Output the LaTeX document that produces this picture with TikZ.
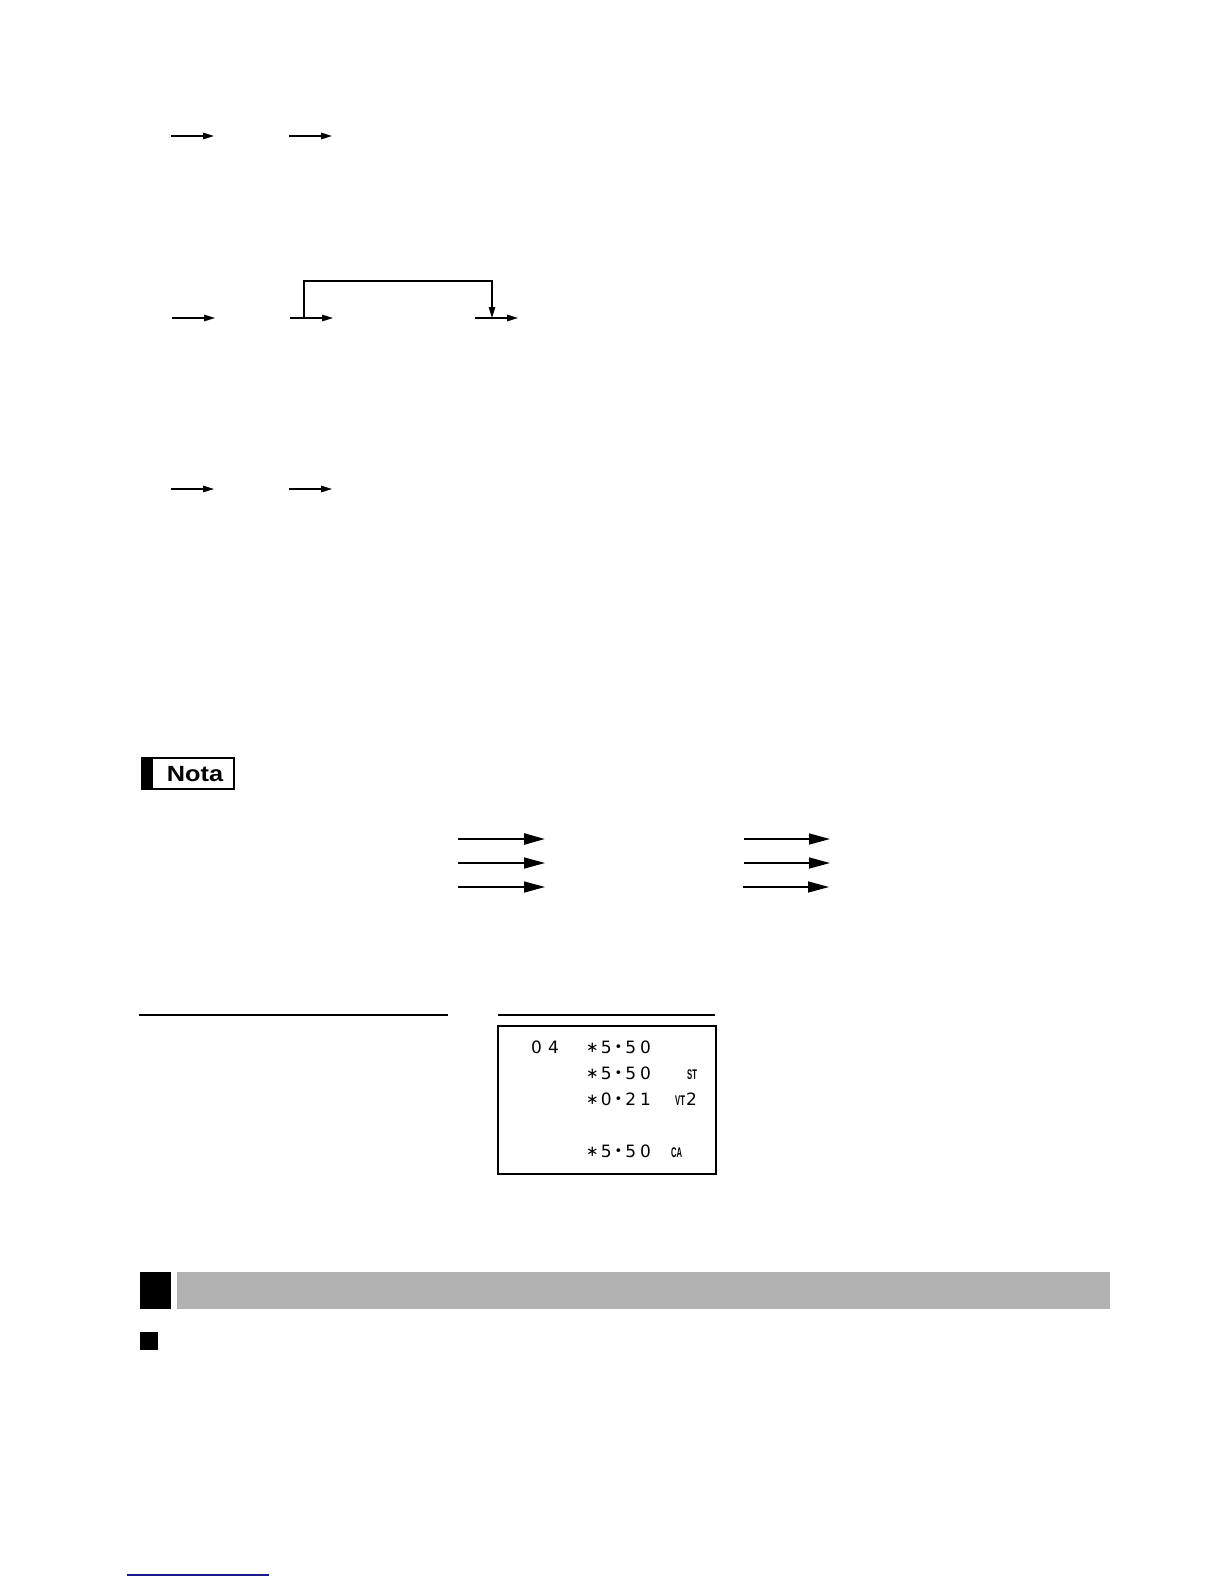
\documentclass[tikz,border=0pt]{standalone}
\usepackage{fontspec}
\setmainfont{Liberation Sans}
\newfontfamily\rcptfont{DejaVu Sans}
\usetikzlibrary{arrows.meta}
\definecolor{barGray}{HTML}{B2B2B2}
\definecolor{navyLine}{HTML}{1A1A8C}
\newcommand{\rstar}{\raisebox{1pt}{\fontsize{15}{15}\selectfont ∗}}
\newcommand{\rdot}{\raisebox{1.8pt}{\fontsize{13}{13}\selectfont •}}
\tikzset{
  keyarrow/.style={line width=1.4pt,-{Triangle[length=11pt,width=6.5pt]}},
  notaarrow/.style={line width=1.5pt,-{Triangle[length=21pt,width=11pt]}},
  rtext/.style={anchor=west,inner sep=0pt,font=\rcptfont\fontsize{17}{17}\selectfont},
  rtag/.style={anchor=west,inner sep=0pt,font=\bfseries\fontsize{14}{14}\selectfont,xscale=0.55},
}
\begin{document}
\begin{tikzpicture}[x=1pt,y=-1pt]
\useasboundingbox (0,0) rectangle (1224,1584);
% row 1
\coordinate (a1s) at (171,136); \coordinate (a1e) at (214,136);
\coordinate (a2s) at (289,136); \coordinate (a2e) at (332,136);
\draw[keyarrow] (a1s) -- (a1e);
\draw[keyarrow] (a2s) -- (a2e);
% row 2
\coordinate (b1s) at (172,318); \coordinate (b1e) at (215,318);
\coordinate (b2s) at (290,318); \coordinate (b2e) at (333,318);
\coordinate (b3s) at (475,318); \coordinate (b3e) at (518,318);
\coordinate (bk1) at (304,318); \coordinate (bk2) at (492,318);
\draw[keyarrow] (b1s) -- (b1e);
\draw[keyarrow] (b2s) -- (b2e);
\draw[keyarrow] (b3s) -- (b3e);
\draw[keyarrow] (bk1) -- (304,281) -| (bk2);
% row 3
\coordinate (c1s) at (171,489); \coordinate (c1e) at (214,489);
\coordinate (c2s) at (289,489); \coordinate (c2e) at (332,489);
\draw[keyarrow] (c1s) -- (c1e);
\draw[keyarrow] (c2s) -- (c2e);
% Nota
\draw[line width=1.2pt] (142,758) rectangle (234,789);
\fill (142,758) rectangle (153,789);
\node[inner sep=0pt,font=\bfseries\fontsize{22}{22}\selectfont,xscale=1.15] (nota) at (195,774) {Nota};
% Nota arrows
\coordinate (n1s) at (458,839); \coordinate (n1e) at (545,839);
\coordinate (n2s) at (458,863); \coordinate (n2e) at (545,863);
\coordinate (n3s) at (458,887); \coordinate (n3e) at (545,887);
\coordinate (m1s) at (744,839); \coordinate (m1e) at (830,839);
\coordinate (m2s) at (744,863); \coordinate (m2e) at (830,863);
\coordinate (m3s) at (743,887); \coordinate (m3e) at (829,887);
\draw[notaarrow,line width=2.6pt] (n1s) -- (n1e);
\draw[notaarrow] (n2s) -- (n2e);
\draw[notaarrow] (n3s) -- (n3e);
\draw[notaarrow] (m1s) -- (m1e);
\draw[notaarrow] (m2s) -- (m2e);
\draw[notaarrow] (m3s) -- (m3e);
% receipt
\draw[line width=1.2pt] (139,1015) -- (448,1015);
\draw[line width=1.2pt] (498,1015) -- (715,1015);
\draw[line width=1.2pt] (498,1026) rectangle (716,1174);
\node[rtext] (r0) at (531,1047) {0\kern6pt 4};
\node[rtext] (r1) at (586,1047) {\rstar\kern2pt5\kern3pt\rdot\kern3pt5\kern4pt0};
\node[rtext] (r2) at (586,1073) {\rstar\kern2pt5\kern3pt\rdot\kern3pt5\kern4pt0};
\node[rtext] (r3) at (586,1099) {\rstar\kern2pt0\kern3pt\rdot\kern3pt2\kern4pt1};
\node[rtext] (r4) at (586,1151) {\rstar\kern2pt5\kern3pt\rdot\kern3pt5\kern4pt0};
\node[rtag] (t1) at (687,1075) {ST};
\node[rtag] (t2) at (675,1101) {VT};
\node[rtext] (t2b) at (686,1099) {2};
\node[rtag] (t3) at (671,1153) {CA};
% section bar
\fill (140,1272) rectangle (171,1309);
\fill[barGray] (177,1272) rectangle (1110,1309);
\fill (140,1332) rectangle (158,1350);
% bottom line
\draw[navyLine,line width=1.3pt] (127,1575) -- (269,1575);
\end{tikzpicture}
\end{document}
